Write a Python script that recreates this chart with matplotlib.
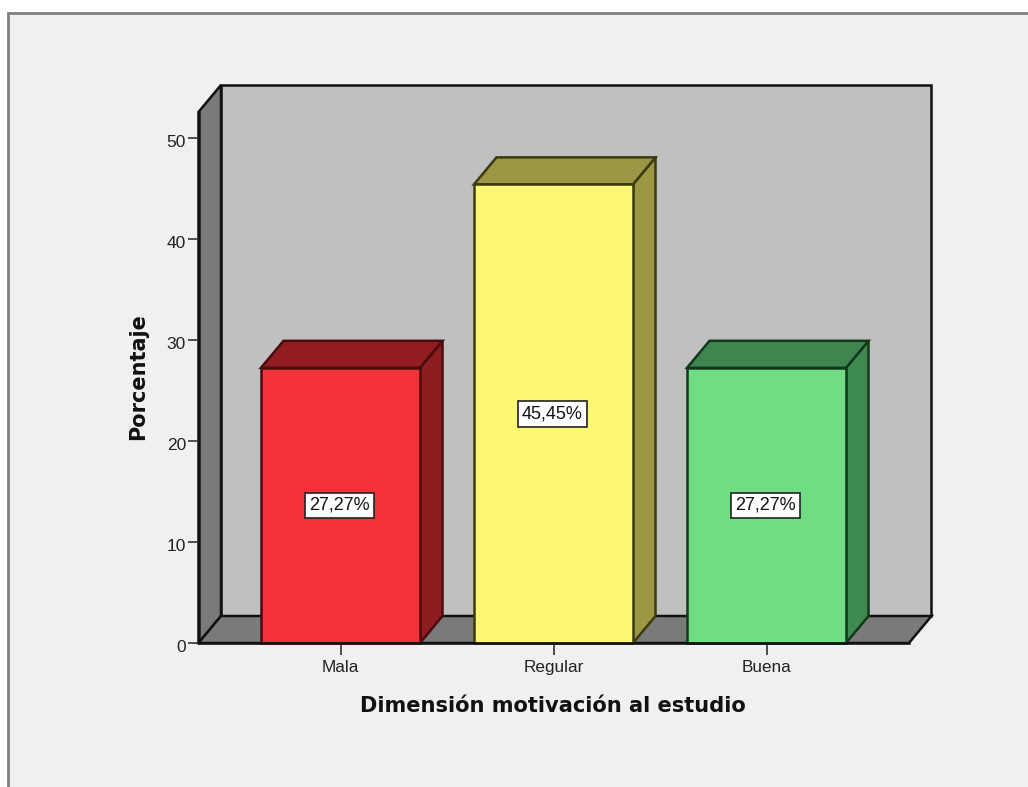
import matplotlib
matplotlib.use("Agg")
import matplotlib.pyplot as plt
from matplotlib.patches import Polygon, Rectangle
from matplotlib.transforms import ScaledTranslation

categories = ["Mala", "Regular", "Buena"]
values = [27.27, 45.45, 27.27]
labels = ["27,27%", "45,45%", "27,27%"]
front_colors = ["#f23238", "#fdf873", "#70dc84"]
top_colors = ["#911d20", "#9a9644", "#3f8550"]
side_colors = ["#8e1d21", "#9b9742", "#3e8a50"]
edge_colors = ["#4a0c0e", "#3c3a10", "#12391c"]
y_ticks = [0, 10, 20, 30, 40, 50]
x_label = "Dimensión motivación al estudio"
y_label = "Porcentaje"

W, H = 1028, 787
plt.rcParams["font.family"] = ["Liberation Sans", "DejaVu Sans"]
fig = plt.figure(figsize=(W / 100, H / 100), dpi=100, facecolor="white")

# chart frame
fig.add_artist(Rectangle((8 / W, -0.01), 1.1, (787 - 13) / H + 0.01,
                         transform=fig.transFigure, facecolor="#f0f0f0",
                         edgecolor="#7f7f7f", linewidth=2.0, zorder=-1))

ax = fig.add_axes([198.5 / W, (H - 643) / H, 710.5 / W, 531 / H])
ax.set_facecolor("none")
xmin, xmax = -0.6667, 2.669
ymax = 52.62
ax.set_xlim(xmin, xmax)
ax.set_ylim(0, ymax)

dx = 22.5 / 213
dy = 27 / 10.09
edge = "#111111"


def poly(points, fc, ec=edge, lw=1.8, z=1):
    ax.add_patch(Polygon(points, closed=True, facecolor=fc, edgecolor=ec,
                         linewidth=lw, clip_on=False, zorder=z, joinstyle="miter"))


# back wall, left wall, floor
poly([(xmin + dx, dy), (xmax + dx, dy), (xmax + dx, ymax + dy), (xmin + dx, ymax + dy)], "#c0c0c0")
poly([(xmin, 0), (xmin + dx, dy), (xmin + dx, ymax + dy), (xmin, ymax)], "#7a7a7a")
poly([(xmin, 0), (xmax, 0), (xmax + dx, dy), (xmin + dx, dy)], "#7a7a7a")

bar_w = 0.7465
for i, v in enumerate(values):
    a, b = i - bar_w / 2, i + bar_w / 2
    poly([(b, 0), (b + dx, dy), (b + dx, v + dy), (b, v)], side_colors[i], ec=edge_colors[i], z=2)
    poly([(a, v), (b, v), (b + dx, v + dy), (a + dx, v + dy)], top_colors[i], ec=edge_colors[i], z=2)
    ax.bar(i, v, width=bar_w, color=front_colors[i], edgecolor=edge_colors[i], linewidth=1.8,
           zorder=3, clip_on=False)
    ax.text(i - 0.005, v / 2, labels[i], ha="center", va="center", fontsize=13, color="#111111",
            zorder=4, bbox=dict(boxstyle="square,pad=0.24", facecolor="white",
                                edgecolor="#222222", linewidth=1.2))

for s in ["top", "right"]:
    ax.spines[s].set_visible(False)
for s in ["left", "bottom"]:
    ax.spines[s].set_color(edge)
    ax.spines[s].set_linewidth(1.8)
    ax.spines[s].set_zorder(5)

ax.set_yticks(y_ticks)
ax.set_xticks(range(len(categories)))
ax.set_xticklabels(categories)
ax.tick_params(axis="y", length=8, width=1.2, color="#333333", labelsize=12.5,
               labelcolor="#222222", pad=1)
ax.tick_params(axis="x", length=8.5, width=1.2, color="#333333", labelsize=12.3,
               labelcolor="#222222", pad=3.5)

shift = ScaledTranslation(0, -2 / 72, fig.dpi_scale_trans)
for tl in ax.get_yticklabels():
    tl.set_transform(tl.get_transform() + shift)

fig.text(553 / W, 1 - 706 / H, x_label, ha="center", va="center", fontsize=15.1,
         fontweight="bold", color="#111111", family="DejaVu Sans")
fig.text(138 / W, 1 - 377 / H, y_label, ha="center", va="center", rotation=90,
         fontsize=15, fontweight="bold", color="#111111", family="DejaVu Sans")

fig.savefig("out.png", dpi=100, facecolor="white")
